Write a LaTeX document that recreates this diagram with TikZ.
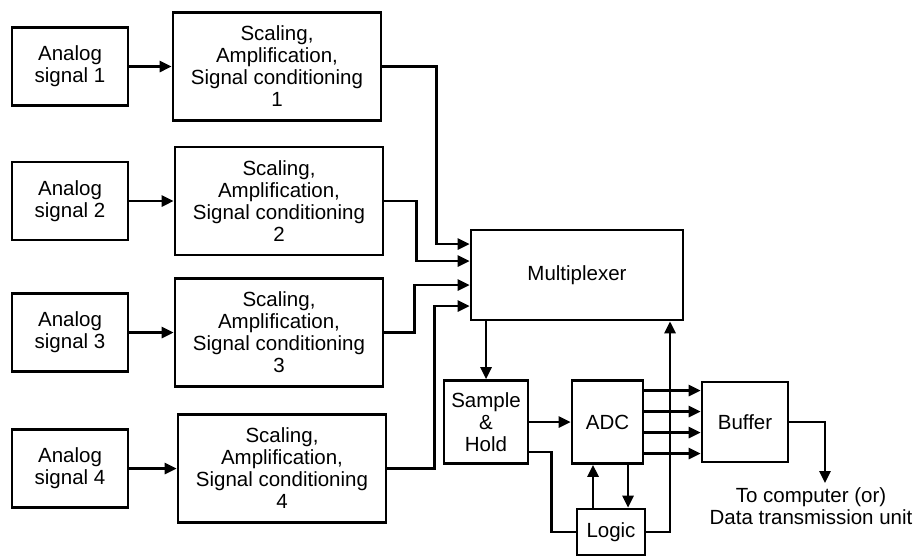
\documentclass[tikz,border=0pt]{standalone}
\usepackage{fontspec}
\setmainfont{Liberation Sans}
\usetikzlibrary{positioning,arrows.meta}

\tikzset{
  blk/.style={draw,line width=2.6pt,align=center,inner sep=2pt},
  sigbox/.style={blk,minimum width=116pt,minimum height=78pt},
  condbox/.style={blk,minimum width=208pt,minimum height=108pt},
  wire/.style={line width=2.6pt}
}

\begin{document}
\begin{tikzpicture}[x=1pt,y=-1pt,>={Triangle[length=12pt,width=11pt]},
  font=\fontsize{20.5}{22}\selectfont]
  \useasboundingbox (0,0) rectangle (915,557);
  % input channels
  \foreach \i/\y/\x in {1/66.5/277,2/201/279,3/332.5/279,4/468.5/282} {
    \node[sigbox] (an\i) at (70,\y) {Analog\\signal \i};
    \node[condbox] (sc\i) at (\x,\y) {Scaling,\\Amplification,\\Signal conditioning\\\i};
    \draw[wire,->] (an\i) -- (sc\i);
  }
  \node[blk,minimum width=212pt,minimum height=90pt] (mux) at (577,275) {Multiplexer};
  \node[blk,minimum width=84pt,minimum height=83pt] (sh) at (486,422) {Sample\\\&\\Hold};
  \node[blk,minimum width=71pt,minimum height=83pt] (adc) at (607.5,422) {ADC};
  \node[blk,minimum width=86pt,minimum height=80pt] (buf) at (745,422) {Buffer};
  \node[blk,minimum width=68pt,minimum height=46pt] (logic) at (611,532) {Logic};
  \coordinate (out) at (825,483);
  \node[align=center,inner sep=0pt] (dest) at (811,506) {To computer (or)\\Data transmission unit};

  % channels into the multiplexer
  \foreach \i/\dy/\dx in {1/31/54,2/14/32,3/-10/30,4/-31/47} {
    \draw[wire,->] (sc\i.east) -- ++(\dx,0) |- ([yshift=\dy pt]mux.west);
  }
  \draw[wire,->] (mux.south -| sh.north) -- (sh.north);
  \draw[wire,->] (sh) -- (adc);
  \draw[wire] ([yshift=-30pt]sh.east) -- ++(22,0) |- (logic.west);
  \draw[wire,->] ([xshift=-18pt]logic.north) -- ([xshift=-18pt]logic.north |- adc.south);
  \draw[wire,->] ([xshift=17pt]logic.north |- adc.south) -- ([xshift=17pt]logic.north);
  \draw[wire,->] (logic.east) -| ([xshift=93pt]mux.south);
  % parallel output lines
  \foreach \d in {-31.5,-10.5,10.5,31.5} {
    \draw[wire,->] ([yshift=\d pt]adc.east) -- ([yshift=\d pt]buf.west);
  }
  \draw[wire,->] (buf.east) -| (out);
\end{tikzpicture}
\end{document}
